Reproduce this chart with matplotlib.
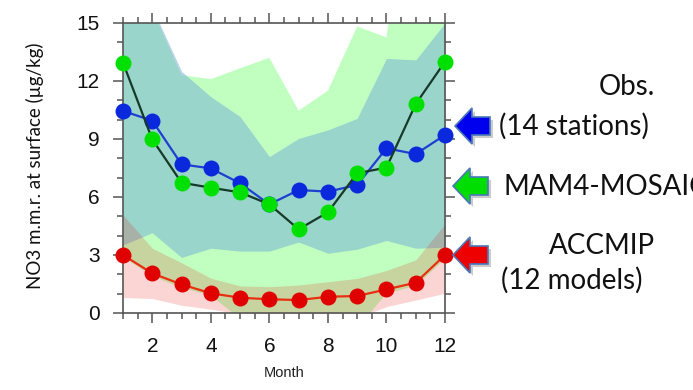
import numpy as np
import matplotlib
matplotlib.use('Agg')
import matplotlib.pyplot as plt
from matplotlib.patches import Polygon

W, H = 693, 390

months = np.arange(1, 13)

# monthly means (ug/kg)
obs = [10.45, 9.95, 7.69, 7.48, 6.71, 5.62, 6.36, 6.28, 6.62, 8.52, 8.22, 9.21]
mam4 = [12.95, 8.98, 6.74, 6.48, 6.24, 5.62, 4.33, 5.21, 7.23, 7.52, 10.81, 13.0]
accmip = [3.0, 2.05, 1.48, 1.02, 0.79, 0.71, 0.67, 0.84, 0.88, 1.22, 1.57, 3.0]

# shaded ranges
obs_hi = [16.5, 15.8, 12.5, 11.19, 10.16, 8.09, 9.03, 9.47, 10.07, 13.17, 13.09, 15.0]
obs_lo = [3.52, 4.15, 2.87, 3.35, 3.2, 3.2, 3.67, 3.09, 3.3, 3.75, 3.35, 3.4]
mam4_hi = [16.5, 15.7, 12.3, 12.1, 12.66, 13.2, 10.47, 11.5, 14.82, 14.26, 25.0, 20.0]
mam4_lo = [2.9, 1.9, 1.3, 0.9, -0.3, -0.5, -0.5, -0.5, -0.8, 1.0, 1.4, 2.8]
acc_hi = [5.07, 3.35, 2.6, 1.8, 1.4, 1.36, 1.45, 1.62, 1.79, 2.2, 2.75, 4.6]
acc_lo = [0.8, 0.75, 0.4, 0.2, -0.05, -0.3, -0.3, -0.3, -0.25, 0.33, 0.67, 1.02]

fig = plt.figure(figsize=(W / 100, H / 100), dpi=100)
ax = fig.add_axes([123 / W, 1 - 313 / H, 322 / W, 290 / H])

ax.fill_between(months, mam4_lo, mam4_hi, color='#99ff99', alpha=0.6, lw=0)
ax.fill_between(months, obs_lo, obs_hi, color=(0.46, 0.68, 0.84), alpha=0.5, lw=0)
ax.fill_between(months, acc_lo, acc_hi, color=(0.92, 0, 0), alpha=0.17, lw=0)

ax.plot(months, obs, '-', color='#1f3fd0', lw=1.6, zorder=3)
ax.plot(months, obs, 'o', color='#0a28dc', ms=11.5, mew=0, clip_on=False, zorder=4)
ax.plot(months, mam4, '-', color='#173a28', lw=1.6, zorder=5)
ax.plot(months, mam4, 'o', color='#00e000', ms=11.5, mew=0, clip_on=False, zorder=6)
ax.plot(months, accmip, '-', color='#e83010', lw=1.6, zorder=7)
ax.plot(months, accmip, 'o', color='#e00000', ms=11.5, mew=0, clip_on=False, zorder=8)

ax.set_xlim(1, 12)
ax.set_ylim(0, 15)
ax.set_xticks([2, 4, 6, 8, 10, 12])
ax.set_xticks(np.arange(1, 12.01, 0.5), minor=True)
ax.set_yticks([0, 3, 6, 9, 12, 15])
ax.set_yticks(np.arange(0, 15.01, 1), minor=True)
for s in ax.spines.values():
    s.set_color('#555555')
    s.set_linewidth(1.2)
ax.tick_params(which='both', direction='out', top=True, right=True,
               color='#555555', width=1.1)
ax.tick_params(which='major', length=7, labelsize=15, pad=10)
ax.tick_params(which='minor', length=4)
ax.tick_params(axis='x', which='major', labeltop=False)
for lab in ax.get_xticklabels() + ax.get_yticklabels():
    lab.set_family('Liberation Sans')
    lab.set_color('#111111')

fig.text(284 / W, 1 - 373 / H, 'Month', ha='center', va='center',
         fontsize=10.5, family='Liberation Sans', color='#222222')
fig.text(35 / W, 1 - 166 / H, 'NO3 m.m.r. at surface (\u00b5g/kg)', rotation=90,
         ha='center', va='center', fontsize=13.5, family='Lato', color='#111111')


def arrow(tip_x, tip_y, face):
    # block arrow pointing left, pixel coords
    pts = [(tip_x, tip_y), (tip_x + 17, tip_y - 18), (tip_x + 17, tip_y - 9),
           (tip_x + 35, tip_y - 9), (tip_x + 35, tip_y + 9), (tip_x + 17, tip_y + 9),
           (tip_x + 17, tip_y + 18)]
    sh = [((x + 3) / W, 1 - (y + 3) / H) for x, y in pts]
    fig.patches.append(Polygon(sh, closed=True, transform=fig.transFigure,
                               facecolor='#999999', edgecolor='none', alpha=0.5))
    p = [(x / W, 1 - y / H) for x, y in pts]
    fig.patches.append(Polygon(p, closed=True, transform=fig.transFigure,
                               facecolor=face, edgecolor='#4a78b8', lw=1.2))


arrow(455, 126, '#0000ee')
arrow(453, 186, '#00dd00')
arrow(453, 255, '#ee0000')

tk = dict(fontsize=20, family='Lato', color='#111111', va='center')
fig.text(655 / W, 1 - 87 / H, 'Obs.', ha='right', **tk)
fig.text(499 / W, 1 - 126 / H, '(14 stations)', ha='left', **tk)
fig.text(503 / W, 1 - 187 / H, 'MAM4-MOSAIC', ha='left', **tk)
fig.text(655 / W, 1 - 246 / H, 'ACCMIP', ha='right', **tk)
fig.text(501 / W, 1 - 280 / H, '(12 models)', ha='left', **tk)

fig.savefig('out.png', dpi=100)
